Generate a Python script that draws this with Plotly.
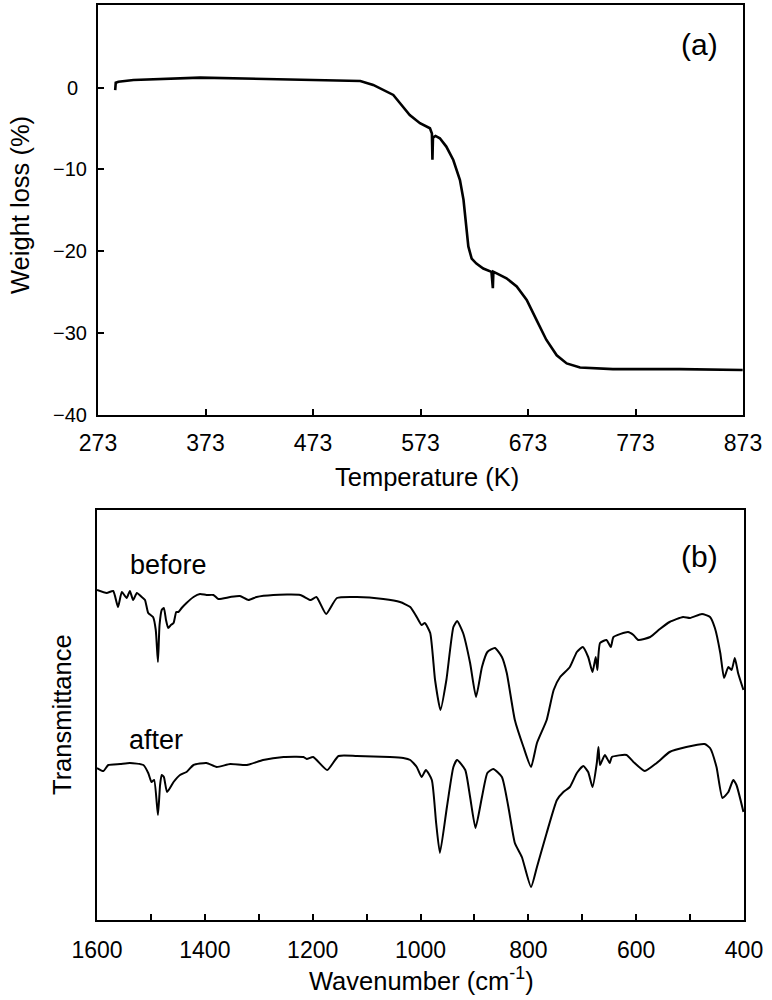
import plotly.graph_objects as go

# ---- (a) TGA data ----
tga_temp = [289, 289.5, 292, 306, 368, 430, 492, 517, 529, 541.6, 547.7, 554, 563, 572.5, 581.8,
            583.6, 584.1, 584.6, 587, 591, 597, 603.5, 609.7, 613, 615.3, 617.5, 620.6, 625, 631.4, 639,
            640.3, 640.8, 643.9, 653, 662.5, 671.8, 681, 690, 699.7, 709, 721.4, 752, 814, 872.7]
tga_loss = [-0.3, 0.6, 0.73, 0.94, 1.22, 1.06, 0.94, 0.82, 0.33, -0.49, -0.89, -1.91, -3.34, -4.35, -4.96,
            -5.6, -8.8, -6.1, -5.9, -6.19, -7.2, -8.84, -11.3, -13.7, -17, -19.4, -20.9, -21.5, -22.1, -22.5,
            -24.5, -22.5, -22.7, -23.3, -24.3, -25.95, -28.4, -30.8, -32.7, -33.7, -34.2, -34.4, -34.4, -34.5]
tga_xticks = [273, 373, 473, 573, 673, 773, 873]
tga_yticks = [-40, -30, -20, -10, 0]
tga_ylabels = ["\u221240", "\u221230", "\u221220", "\u221210", "0"]

# ---- (b) FTIR data (transmittance, arbitrary units) ----
before_wn = [1600, 1582, 1570, 1561, 1554, 1545, 1539, 1533, 1526, 1517, 1511, 1505, 1496, 1491, 1487,
             1484, 1480, 1476, 1472, 1468, 1463, 1458, 1453, 1449, 1443, 1434, 1421, 1409, 1397, 1384,
             1375, 1353, 1335, 1319, 1304, 1273, 1223, 1204, 1193, 1175, 1155, 1118, 1069, 1038, 1019,
             1007, 998, 992, 982, 973, 963, 952, 939, 932, 921, 908, 897, 886, 876, 862,
             849, 840, 825, 809, 795, 784, 766, 753, 741, 723, 710, 699, 689, 681, 675,
             672, 667, 655, 647, 642, 615, 605, 596, 574, 556, 538, 513, 500, 478, 463,
             454, 444, 437, 429, 423, 417, 411, 401]
before_tr = [330, 327, 329, 313, 328, 322, 329, 320, 327, 323, 320, 307, 303, 290, 258,
             295, 310, 312, 300, 292, 295, 297, 308, 308, 312, 317, 323, 326, 325, 325,
             321, 323, 324, 320, 323, 325, 325, 320, 323, 306, 322, 323, 321, 318, 313,
             303, 295, 297, 287, 240, 210, 240, 293, 299, 287, 257, 223, 253, 268, 272,
             263, 247, 200, 173, 153, 177, 200, 230, 243, 253, 268, 273, 263, 248, 263,
             250, 277, 280, 273, 283, 288, 285, 280, 283, 291, 298, 303, 302, 306, 303,
             292, 267, 242, 253, 250, 262, 247, 230]
after_wn = [1600, 1588, 1579, 1557, 1539, 1514, 1505, 1499, 1494, 1487, 1483, 1480, 1476, 1470, 1458,
            1446, 1434, 1421, 1397, 1378, 1353, 1322, 1292, 1254, 1217, 1211, 1199, 1173, 1152, 1118,
            1057, 1032, 1019, 1007, 998, 990, 979, 971, 964, 951, 939, 932, 917, 908, 898,
            886, 876, 865, 849, 837, 825, 812, 795, 784, 766, 747, 735, 723, 710, 698,
            689, 681, 673, 670, 667, 658, 649, 645, 618, 605, 584, 562, 538, 507, 473,
            463, 451, 440, 429, 420, 414, 401]
after_tr = [152, 149, 155, 156, 157, 155, 147, 138, 140, 105, 135, 145, 143, 128, 138,
            145, 148, 155, 157, 153, 156, 155, 160, 163, 163, 161, 163, 150, 164, 164,
            163, 162, 160, 153, 143, 150, 140, 97, 67, 113, 153, 160, 150, 123, 92,
            123, 147, 151, 143, 113, 77, 63, 33, 53, 87, 120, 128, 133, 147, 154,
            148, 133, 157, 173, 155, 165, 157, 163, 165, 158, 149, 157, 168, 173, 176,
            172, 153, 122, 128, 140, 135, 108]

W, H = 772, 1000
FONT = "Liberation Sans, Arial, sans-serif"
FS_TICK_X = 23
FS_TICK_Y = 20
FS_TITLE = 25.5
FS_PANEL = 30
FS_LABEL = 27

def px(x):
    return x / W

def py(y):
    return 1 - y / H

fig = go.Figure()
fig.add_trace(go.Scatter(x=tga_temp, y=tga_loss, mode="lines",
                         line=dict(color="black", width=2.6), xaxis="x", yaxis="y",
                         showlegend=False))
fig.add_trace(go.Scatter(x=before_wn, y=before_tr, mode="lines",
                         line=dict(color="black", width=2, shape="spline", smoothing=0.5),
                         xaxis="x2", yaxis="y2", showlegend=False))
fig.add_trace(go.Scatter(x=after_wn, y=after_tr, mode="lines",
                         line=dict(color="black", width=2, shape="spline", smoothing=0.5),
                         xaxis="x2", yaxis="y2", showlegend=False))

axis_common = dict(showline=True, linecolor="black", linewidth=2, mirror=True,
                   showgrid=False, zeroline=False, ticks="inside", ticklen=6,
                   tickwidth=1.5, tickcolor="black", automargin=False,
                   tickfont=dict(family=FONT, size=FS_TICK_X, color="black"))

fig.update_layout(
    template="none",
    width=W, height=H,
    margin=dict(l=0, r=0, t=0, b=0, pad=0),
    paper_bgcolor="white", plot_bgcolor="white",
    xaxis=dict(axis_common, domain=[px(98), px(743)], range=[273, 873],
               tickvals=tga_xticks, anchor="y", ticklabelstandoff=6),
    yaxis=dict(axis_common, domain=[py(415), py(5)], range=[-40, 10.1],
               tickvals=tga_yticks, showticklabels=False, anchor="x"),
    xaxis2=dict(axis_common, domain=[px(97), px(744)], range=[1600, 400],
                tick0=400, dtick=200, anchor="y2", ticklabelstandoff=8,
                minor=dict(dtick=100, tick0=400, ticks="inside", ticklen=6,
                           tickwidth=1.5, tickcolor="black", showgrid=False)),
    yaxis2=dict(axis_common, domain=[py(920), py(510)], range=[0, 410],
                ticks="", showticklabels=False, anchor="x2"),
)

# y tick labels of panel (a), centred as in the original
for v, lab in zip(tga_yticks, tga_ylabels):
    fig.add_annotation(text=lab, x=px(70 if v < 0 else 72.5), y=v, xref="paper", yref="y",
                       showarrow=False, xanchor="center", yanchor="middle",
                       font=dict(family=FONT, size=FS_TICK_Y, color="black"))

def note(text, x, y, size, angle=0):
    fig.add_annotation(text=text, x=px(x), y=py(y), xref="paper", yref="paper",
                       showarrow=False, textangle=angle,
                       font=dict(family=FONT, size=size, color="black"),
                       xanchor="center", yanchor="middle")

note("Temperature (K)", 427, 477, FS_TITLE)
note("Weight loss (%)", 20, 205, FS_TITLE, angle=-90)
note("Wavenumber (cm<sup>-1</sup>)", 421, 979, FS_TITLE)
note("Transmittance", 62, 714, FS_TITLE, angle=-90)
note("(a)", 699, 44, FS_PANEL)
note("(b)", 699, 556, FS_PANEL)
note("before", 168, 565, FS_LABEL)
note("after", 156, 740, FS_LABEL)

fig.write_html("out.html", config={"displayModeBar": False},
               post_script="document.body.style.margin='0';document.body.style.overflow='hidden';")
